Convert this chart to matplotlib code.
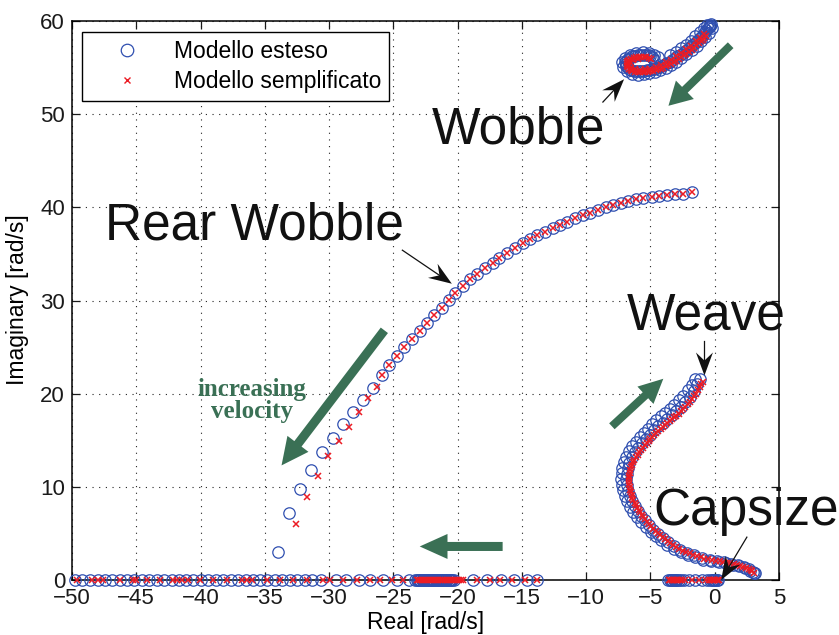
import numpy as np
import matplotlib
matplotlib.use('Agg')
import matplotlib.pyplot as plt
from matplotlib.lines import Line2D
from matplotlib.patches import FancyArrowPatch, Polygon
from matplotlib.transforms import IdentityTransform

plt.rcParams['font.family'] = ['Liberation Sans', 'DejaVu Sans']

BLUE = '#2f4fb0'
RED = '#ec1c24'
GREEN = '#3a7055'

# ---- eigenvalues (real, imag), extended model = circles, simplified = crosses ----
# real-axis roots
real_circ = [-49.75, -49.2, -48.6, -48.0, -47.45, -46.85, -46.3, -45.7, -45.15, -44.55,
             -44.0, -43.4, -42.85, -42.25, -41.7, -41.1, -40.55, -39.95, -39.4, -38.8,
             -38.25, -37.65, -37.1, -36.5, -35.95, -35.35, -34.8, -34.2, -33.65, -33.05,
             -32.5, -31.9, -31.3, -30.6, -29.5, -28.7, -27.7, -26.8, -25.8, -24.7, -23.8,
             -23.3, -23.2, -23.1, -23.0, -22.9, -22.8, -22.7, -22.6, -22.5, -22.4, -22.3,
             -22.2, -22.1, -22.0, -21.9, -21.8, -21.7, -21.6, -21.5, -21.4, -21.3, -21.2,
             -21.1, -21.0, -20.9, -20.8, -20.7, -20.6, -20.5, -20.4, -20.3,
             -18.8, -17.7, -16.6, -15.6, -14.6, -13.8,
             -3.6, -3.5, -3.4, -3.3, -3.2, -3.1, -3.0, -2.9, -2.75, -2.6, -2.4, -2.0,
             -1.5, -1.0, -0.6, -0.4, -0.25, -0.15, -0.05, 0.05, 0.15, 0.25]
real_x = [-49.63, -48.47, -47.95, -47.56, -46.27, -45.23, -45.02, -44.14, -43.15, -42.12,
          -41.86, -41.47, -40.95, -40.04, -39.01, -37.97, -36.8, -36.41, -36.02, -34.85,
          -33.82, -32.78, -31.74, -30.45, -29.93, -28.89, -27.85, -26.82, -26.04, -25.13,
          -24.23, -23.2, -23.05, -22.9, -22.75, -22.6, -22.45, -22.3, -22.15, -22.0,
          -21.85, -21.7, -21.55, -21.4, -21.25, -21.1, -20.95, -20.8, -20.65, -20.5,
          -20.35, -20.2, -20.05, -19.9, -19.75, -19.6, -18.52, -17.48, -16.7, -15.8,
          -14.76, -13.85,
          -3.55, -3.45, -3.35, -3.25, -3.15, -3.05, -2.95, -2.85, -2.7, -2.55, -2.3,
          -1.75, -1.2, -0.7, -0.45, -0.35, -0.25, -0.15, -0.05, 0.05, 0.15, 0.25, 0.35]

# rear wobble branch
rear_circ = np.array([
    (-33.95, 2.97), (-33.1, 7.22), (-32.26, 9.77), (-31.43, 11.81), (-30.58, 13.71),
    (-29.67, 15.27), (-28.9, 16.71), (-28.12, 18.06), (-27.34, 19.32), (-26.6, 20.6),
    (-25.91, 21.95), (-25.32, 23.08), (-24.74, 24.07), (-24.15, 25.04), (-23.57, 25.83),
    (-22.93, 26.76), (-22.41, 27.62), (-21.84, 28.44), (-21.24, 29.16), (-20.67, 30.05),
    (-20.21, 30.84), (-19.61, 31.56), (-19.04, 32.27), (-18.47, 32.84), (-17.87, 33.46),
    (-17.27, 33.99), (-16.76, 34.53), (-16.18, 35.07), (-15.54, 35.6), (-14.94, 36.14),
    (-14.37, 36.57), (-13.8, 37.03), (-13.2, 37.38), (-12.61, 37.75), (-12.04, 38.1),
    (-11.47, 38.46), (-10.87, 38.82), (-10.27, 39.18), (-9.7, 39.42), (-9.06, 39.71),
    (-8.46, 40.0), (-7.89, 40.25), (-7.32, 40.5), (-6.72, 40.71), (-6.13, 40.86),
    (-5.56, 40.97), (-4.9, 41.14), (-4.31, 41.22), (-3.74, 41.32), (-3.09, 41.4),
    (-2.45, 41.44), (-1.79, 41.61)])
rear_x = np.array([
    (-32.57, 6.01), (-31.7, 8.94), (-30.84, 11.19), (-30.06, 13.31), (-29.21, 14.92),
    (-28.43, 16.45), (-27.67, 18.06), (-27.0, 19.5), (-26.3, 20.75),
    (-25.91, 21.95), (-25.32, 23.08), (-24.74, 24.07), (-24.15, 25.04), (-23.57, 25.83),
    (-22.93, 26.76), (-22.41, 27.62), (-21.84, 28.44), (-21.24, 29.16), (-20.67, 30.05),
    (-20.21, 30.84), (-19.61, 31.56), (-19.04, 32.27), (-18.47, 32.84), (-17.87, 33.46),
    (-17.27, 33.99), (-16.76, 34.53), (-16.18, 35.07), (-15.54, 35.6), (-14.94, 36.14),
    (-14.37, 36.57), (-13.8, 37.03), (-13.2, 37.38), (-12.61, 37.75), (-12.04, 38.1),
    (-11.47, 38.46), (-10.87, 38.82), (-10.27, 39.18), (-9.7, 39.42), (-9.06, 39.71),
    (-8.46, 40.0), (-7.89, 40.25), (-7.32, 40.5), (-6.72, 40.71), (-6.13, 40.86),
    (-5.56, 40.97), (-4.9, 41.14), (-4.31, 41.22), (-3.74, 41.32), (-3.09, 41.4),
    (-2.45, 41.44), (-1.79, 41.61)])

# weave branch (runs down into the capsize region)
weave_circ = np.array([
    (-1.15, 21.6), (-1.35, 21.0), (-1.65, 20.3), (-1.95, 19.65), (-2.3, 19.1),
    (-2.65, 18.6), (-3.0, 18.1), (-3.35, 17.7), (-3.7, 17.3), (-4.05, 16.9),
    (-4.4, 16.5), (-4.75, 16.05), (-5.05, 15.6), (-5.35, 15.15), (-5.65, 14.7),
    (-5.95, 14.2), (-6.2, 13.7), (-6.45, 13.15), (-6.65, 12.6), (-6.78, 12.0),
    (-6.85, 11.4), (-6.87, 10.8), (-6.83, 10.2), (-6.73, 9.6), (-6.6, 9.0),
    (-6.43, 8.45), (-6.23, 7.9), (-6.0, 7.4), (-5.75, 6.9), (-5.45, 6.4),
    (-5.13, 5.9), (-4.8, 5.4), (-4.45, 4.95), (-4.05, 4.5), (-3.65, 4.05),
    (-3.2, 3.65), (-2.7, 3.25), (-2.15, 2.95), (-1.6, 2.7), (-1.0, 2.4),
    (-0.4, 2.2), (0.2, 2.05), (0.75, 1.9), (1.3, 1.75), (1.8, 1.6),
    (2.25, 1.4), (2.65, 1.15), (2.95, 0.9), (3.15, 0.7),
    (-1.5, 21.55), (-1.8, 20.95), (-2.1, 20.35), (-2.45, 19.8), (-2.8, 19.3),
    (-3.15, 18.8), (-3.5, 18.35), (-3.85, 17.95), (-4.2, 17.55), (-4.55, 17.15),
    (-4.9, 16.7), (-5.2, 16.25), (-5.5, 15.8), (-5.8, 15.35), (-6.1, 14.85),
    (-6.4, 14.35), (-6.65, 13.8), (-6.88, 13.25), (-7.05, 12.65), (-7.18, 12.05),
    (-7.25, 11.45), (-7.27, 10.85), (-7.22, 10.25), (-7.12, 9.65), (-6.98, 9.05),
    (-6.8, 8.45), (-6.58, 7.85), (-6.32, 7.3), (-6.02, 6.75), (-5.7, 6.2),
    (-5.35, 5.7), (-4.98, 5.2), (-4.58, 4.72), (-4.15, 4.25), (-3.7, 3.8),
    (-3.2, 3.38), (-2.65, 3.0), (-2.1, 2.68), (-1.5, 2.42), (-0.9, 2.2),
    (-0.3, 2.05), (0.3, 1.92), (0.85, 1.78), (1.4, 1.63), (1.9, 1.47),
    (2.35, 1.25), (2.75, 1.0), (3.05, 0.78)])
weave_x = np.array([
    (-0.95, 21.3), (-1.15, 20.7), (-1.45, 20.0), (-1.75, 19.4), (-2.1, 18.85),
    (-2.45, 18.35), (-2.8, 17.85), (-3.15, 17.45), (-3.5, 17.05), (-3.85, 16.65),
    (-4.2, 16.25), (-4.55, 15.8), (-4.85, 15.35), (-5.15, 14.9), (-5.45, 14.45),
    (-5.75, 13.95), (-6.0, 13.45), (-6.25, 12.9), (-6.45, 12.35), (-6.58, 11.8),
    (-6.65, 11.2), (-6.67, 10.6), (-6.63, 10.0), (-6.53, 9.4), (-6.4, 8.85),
    (-6.23, 8.3), (-6.03, 7.75), (-5.8, 7.25), (-5.55, 6.75), (-5.25, 6.25),
    (-4.93, 5.75), (-4.6, 5.3), (-4.25, 4.85), (-3.85, 4.4), (-3.45, 3.95),
    (-3.0, 3.55), (-2.5, 3.15), (-1.95, 2.85), (-1.4, 2.6), (-0.8, 2.3),
    (-0.2, 2.15), (0.4, 2.0), (0.95, 1.85), (1.5, 1.7), (2.0, 1.5),
    (2.45, 1.3), (2.8, 1.05), (3.05, 0.8),
    (-1.05, 21.0), (-1.3, 20.35), (-1.6, 19.7), (-1.93, 19.12), (-2.28, 18.6),
    (-2.63, 18.1), (-2.98, 17.65), (-3.33, 17.25), (-3.68, 16.85), (-4.03, 16.45),
    (-4.38, 16.02), (-4.7, 15.58), (-5.0, 15.12), (-5.3, 14.68), (-5.6, 14.2),
    (-5.88, 13.7), (-6.13, 13.18), (-6.35, 12.62), (-6.52, 12.08), (-6.62, 11.5),
    (-6.66, 10.9), (-6.65, 10.3), (-6.58, 9.7), (-6.47, 9.12), (-6.32, 8.58),
    (-6.13, 8.02), (-5.92, 7.5), (-5.68, 7.0), (-5.4, 6.5), (-5.09, 6.0),
    (-4.77, 5.52), (-4.43, 5.08), (-4.05, 4.62), (-3.65, 4.18), (-3.23, 3.75),
    (-2.75, 3.35), (-2.23, 3.0), (-1.68, 2.72), (-1.1, 2.45), (-0.5, 2.22),
    (0.1, 2.08), (0.68, 1.92), (1.22, 1.78), (1.75, 1.6), (2.23, 1.4),
    (2.63, 1.18), (2.93, 0.92)])

# front wobble branch (top right curl)
wobble_circ = np.array([
    (-0.45, 59.4), (-0.65, 59.0), (-0.9, 58.55), (-1.2, 58.1), (-1.55, 57.65),
    (-1.9, 57.2), (-2.3, 56.8), (-2.7, 56.4), (-3.1, 56.0), (-3.5, 55.65),
    (-3.9, 55.35), (-4.3, 55.1), (-4.7, 54.9), (-5.1, 54.75), (-5.5, 54.65),
    (-5.9, 54.6), (-6.3, 54.65), (-6.65, 54.85), (-6.9, 55.2), (-6.95, 55.6),
    (-6.75, 55.95), (-6.4, 56.2), (-6.0, 56.35), (-5.55, 56.4), (-5.15, 56.3),
    (-4.85, 56.1), (-4.7, 55.85),
    (-0.55, 59.2), (-0.78, 58.78), (-1.05, 58.33), (-1.38, 57.88), (-1.73, 57.43),
    (-2.1, 57.0), (-2.5, 56.6), (-2.9, 56.2), (-3.3, 55.83), (-3.7, 55.5),
    (-4.1, 55.22), (-4.5, 55.0), (-4.9, 54.83), (-5.3, 54.7), (-5.7, 54.62),
    (-6.1, 54.62), (-6.48, 54.75), (-6.78, 55.02), (-6.93, 55.4), (-6.85, 55.78),
    (-6.58, 56.08), (-6.2, 56.28), (-5.78, 56.38), (-5.35, 56.35), (-5.0, 56.2),
    (-4.78, 55.98),
    (-0.3, 59.7), (-0.35, 59.55), (-0.4, 59.45), (-0.2, 59.2), (-0.45, 58.75),
    (-0.75, 58.3), (-1.05, 57.8), (-1.4, 57.35), (-1.8, 56.9), (-2.2, 56.45),
    (-2.6, 56.05), (-3.0, 55.65), (-3.4, 55.3), (-3.8, 55.0), (-4.25, 54.75),
    (-4.65, 54.55), (-5.1, 54.4), (-5.5, 54.3), (-5.95, 54.25), (-6.4, 54.35),
    (-6.8, 54.6), (-7.1, 55.05), (-7.2, 55.55), (-7.0, 56.05), (-6.6, 56.4),
    (-6.1, 56.6), (-5.6, 56.7), (-5.1, 56.6), (-4.7, 56.4), (-4.45, 56.1),
    (-0.6, 59.6), (-0.85, 59.2), (-1.15, 58.8), (-1.5, 58.35), (-1.85, 57.9),
    (-2.25, 57.45), (-2.65, 57.05), (-3.05, 56.65), (-3.45, 56.3)])
wobble_x = np.array([
    (-0.7, 58.4), (-0.95, 58.0), (-1.25, 57.6), (-1.6, 57.15), (-2.0, 56.7),
    (-2.4, 56.3), (-2.8, 55.9), (-3.2, 55.55), (-3.6, 55.25), (-4.0, 55.0),
    (-4.4, 54.8), (-4.8, 54.65), (-5.2, 54.55), (-5.6, 54.5), (-6.0, 54.5),
    (-6.4, 54.6), (-6.7, 54.85), (-6.85, 55.2), (-6.85, 55.55), (-6.65, 55.85),
    (-6.3, 56.05), (-5.9, 56.15), (-5.5, 56.15), (-5.15, 56.05), (-4.95, 55.9),
    (-0.85, 58.65), (-1.15, 58.2), (-1.45, 57.8), (-1.85, 57.35), (-2.2, 56.95),
    (-2.6, 56.55), (-3.0, 56.2), (-3.4, 55.85), (-3.8, 55.55), (-4.2, 55.3),
    (-4.6, 55.05), (-5.0, 54.9), (-5.4, 54.8), (-5.8, 54.75), (-6.2, 54.8),
    (-6.5, 55.0), (-6.65, 55.3), (-6.6, 55.6), (-6.35, 55.85), (-6.0, 55.95),
    (-0.83, 58.2), (-1.1, 57.8), (-1.43, 57.38), (-1.8, 56.93), (-2.2, 56.5),
    (-2.6, 56.1), (-3.0, 55.72), (-3.4, 55.4), (-3.8, 55.12), (-4.2, 54.9),
    (-4.6, 54.72), (-5.0, 54.6), (-5.4, 54.52), (-5.8, 54.5), (-6.2, 54.55),
    (-6.55, 54.72), (-6.78, 55.02), (-6.85, 55.38), (-6.75, 55.7), (-6.48, 55.95),
    (-6.1, 56.1), (-5.7, 56.15), (-5.33, 56.1)])

xticks = np.arange(-50, 6, 5)
yticks = np.arange(0, 61, 10)

fig = plt.figure(figsize=(8.39, 6.35), dpi=100)
ax = fig.add_axes([72 / 839, 55 / 635, 707 / 839, 559 / 635])

circ_kw = dict(linestyle='none', marker='o', markersize=8.2, markerfacecolor='none',
               markeredgecolor=BLUE, markeredgewidth=0.9, clip_on=False, zorder=3)
x_kw = dict(linestyle='none', marker='x', markersize=5, markeredgecolor=RED,
            markeredgewidth=1.1, clip_on=False, zorder=4)

ax.plot(real_circ, np.zeros(len(real_circ)), **circ_kw)
for br in (rear_circ, weave_circ, wobble_circ):
    ax.plot(br[:, 0], br[:, 1], **circ_kw)
ax.plot(real_x, np.zeros(len(real_x)), **x_kw)
for br in (rear_x, weave_x, wobble_x):
    ax.plot(br[:, 0], br[:, 1], **x_kw)

ax.set_xlim(-50, 5)
ax.set_ylim(0, 60)
ax.set_xticks(xticks)
ax.set_yticks(yticks)
ax.grid(True, linestyle=(0, (1, 5)), linewidth=0.8, color='#222222')
ax.set_axisbelow(True)
ax.tick_params(direction='in', length=6, width=0.9, top=True, right=True,
               labelsize=16, pad=6, colors='#1a1a1a')
ax.tick_params(axis='y', pad=5)
for sp in ax.spines.values():
    sp.set_linewidth(1.1)
    sp.set_zorder(2)

fig.text(425.5 / 839, 1 - 623 / 635, 'Real [rad/s]', ha='center', va='center', fontsize=16.5)
fig.text(18 / 839, 1 - 300 / 635, 'Imaginary [rad/s]', ha='center', va='center',
         rotation=90, fontsize=16.5)

# legend
hs = [Line2D([], [], linestyle='none', marker='o', markersize=9, markerfacecolor='none',
             markeredgecolor=BLUE, markeredgewidth=0.9),
      Line2D([], [], linestyle='none', marker='x', markersize=5, markeredgecolor=RED,
             markeredgewidth=1.0)]
leg = ax.legend(hs, ['Modello esteso', 'Modello semplificato'], loc='upper left',
                bbox_to_anchor=(10 / 707, 1 - 11 / 559), borderaxespad=0, fontsize=16.5,
                frameon=True, fancybox=False, framealpha=1, edgecolor='black',
                handlelength=3.2, handletextpad=0.45, borderpad=0.35, labelspacing=0.3,
                numpoints=1)
leg.get_frame().set_linewidth(1.0)

# mode labels
big = dict(fontsize=37, color='#111111', ha='left', va='baseline')
ax.text(-22.0, 46.9, 'Wobble', **big)
ax.text(-47.4, 36.5, 'Rear Wobble', **big)
ax.text(-6.85, 26.85, 'Weave', **big)
ax.text(-4.75, 5.9, 'Capsize', clip_on=False, **big)

ax.text(-36.0, 19.3, 'increasing\nvelocity', family='Liberation Serif', fontweight='bold',
        fontsize=18, color=GREEN, ha='center', va='center', linespacing=0.95)


def green_arrow(p0, p1, tail, hw, hl):
    a = FancyArrowPatch(p0, p1, arrowstyle=f'simple,head_length={hl},head_width={hw},tail_width={tail}',
                        mutation_scale=1, color=GREEN, lw=0, shrinkA=0, shrinkB=0,
                        clip_on=False, zorder=5)
    ax.add_patch(a)


def black_arrow(p0, p1, hl=23.0, hw=17.0):
    # thin line with a swept-back head, built in pixel space
    a = ax.transData.transform(p0)
    b = ax.transData.transform(p1)
    d = (b - a) / np.hypot(*(b - a))
    n = np.array([-d[1], d[0]])
    back = b - d * hl
    notch = b - d * hl * 0.65
    ax.add_line(Line2D([a[0], notch[0]], [a[1], notch[1]], color='#111111', lw=0.9,
                       transform=IdentityTransform(), clip_on=False, zorder=6))
    ax.add_patch(Polygon([b, back + n * hw / 2, notch, back - n * hw / 2], closed=True,
                         facecolor='#111111', edgecolor='none',
                         transform=IdentityTransform(), clip_on=False, zorder=6))


green_arrow((1.24, 57.4), (-3.6, 50.9), 5.8, 18.5, 16.5)
green_arrow((-25.7, 26.8), (-33.7, 12.3), 6.5, 19, 19.5)
green_arrow((-8.0, 16.5), (-4.0, 21.6), 5.8, 17, 17.5)
green_arrow((-16.5, 3.6), (-22.95, 3.6), 6.5, 18, 20)

black_arrow((-8.7, 51.3), (-7.05, 53.75))
black_arrow((-24.3, 35.4), (-20.45, 31.8))
black_arrow((-0.8, 25.6), (-0.8, 21.95))
black_arrow((2.5, 4.6), (0.5, 0.0))

fig.savefig('out.png', dpi=100, facecolor='white')
